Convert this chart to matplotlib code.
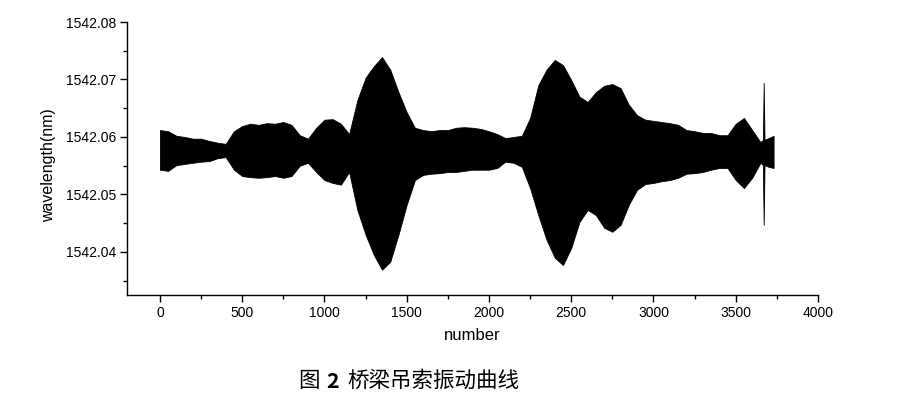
import matplotlib
matplotlib.use("Agg")
import matplotlib.pyplot as plt
from matplotlib.ticker import MultipleLocator

# sample index (number) at which envelope was read
number = [0, 50, 100, 150, 200, 250, 300, 350, 400, 450, 500, 550, 600, 650, 700,
          750, 800, 850, 900, 950, 1000, 1050, 1100, 1150, 1200, 1250, 1300, 1350,
          1400, 1450, 1500, 1550, 1600, 1650, 1700, 1750, 1800, 1850, 1900, 1950,
          2000, 2050, 2100, 2150, 2200, 2250, 2300, 2350, 2400, 2450, 2500, 2550,
          2600, 2650, 2700, 2750, 2800, 2850, 2900, 2950, 3000, 3050, 3100, 3150,
          3200, 3250, 3300, 3350, 3400, 3450, 3500, 3550, 3600, 3650, 3665, 3670,
          3675, 3700, 3730]

# upper envelope of wavelength (nm)
upper = [1542.0612, 1542.0610, 1542.0602, 1542.0600, 1542.0597, 1542.0597, 1542.0593,
         1542.0590, 1542.0588, 1542.0610, 1542.0619, 1542.0623, 1542.0621, 1542.0624,
         1542.0623, 1542.0626, 1542.0621, 1542.0603, 1542.0597, 1542.0616, 1542.0630,
         1542.0631, 1542.0623, 1542.0605, 1542.0664, 1542.0703, 1542.0723, 1542.0739,
         1542.0717, 1542.0678, 1542.0643, 1542.0616, 1542.0612, 1542.0610, 1542.0612,
         1542.0612, 1542.0616, 1542.0617, 1542.0616, 1542.0614, 1542.0610, 1542.0605,
         1542.0598, 1542.0600, 1542.0602, 1542.0633, 1542.0690, 1542.0717, 1542.0734,
         1542.0725, 1542.0699, 1542.0670, 1542.0661, 1542.0678, 1542.0689, 1542.0692,
         1542.0685, 1542.0656, 1542.0638, 1542.0630, 1542.0628, 1542.0626, 1542.0624,
         1542.0621, 1542.0612, 1542.0610, 1542.0607, 1542.0607, 1542.0603, 1542.0603,
         1542.0623, 1542.0633, 1542.0612, 1542.0591, 1542.0595, 1542.0694, 1542.0595,
         1542.0598, 1542.0602]

# lower envelope of wavelength (nm)
lower = [1542.0543, 1542.0541, 1542.0551, 1542.0553, 1542.0555, 1542.0557, 1542.0558,
         1542.0563, 1542.0565, 1542.0543, 1542.0532, 1542.0530, 1542.0529, 1542.0530,
         1542.0532, 1542.0529, 1542.0532, 1542.0550, 1542.0555, 1542.0539, 1542.0525,
         1542.0520, 1542.0517, 1542.0539, 1542.0473, 1542.0430, 1542.0395, 1542.0369,
         1542.0383, 1542.0430, 1542.0482, 1542.0525, 1542.0534, 1542.0536, 1542.0537,
         1542.0539, 1542.0539, 1542.0541, 1542.0543, 1542.0543, 1542.0543, 1542.0546,
         1542.0557, 1542.0555, 1542.0548, 1542.0511, 1542.0464, 1542.0421, 1542.0390,
         1542.0377, 1542.0407, 1542.0452, 1542.0473, 1542.0464, 1542.0442, 1542.0435,
         1542.0447, 1542.0482, 1542.0508, 1542.0518, 1542.0520, 1542.0523, 1542.0525,
         1542.0529, 1542.0536, 1542.0537, 1542.0539, 1542.0543, 1542.0546, 1542.0546,
         1542.0525, 1542.0511, 1542.0529, 1542.0555, 1542.0551, 1542.0447, 1542.0551,
         1542.0548, 1542.0546]

x_ticks = [0, 500, 1000, 1500, 2000, 2500, 3000, 3500, 4000]
y_ticks = [1542.04, 1542.05, 1542.06, 1542.07, 1542.08]

plt.rcParams['font.family'] = ['Liberation Sans', 'DejaVu Sans']

W, H = 898, 403
fig = plt.figure(figsize=(W / 100, H / 100), dpi=100)
ax = fig.add_axes([127 / W, 1 - 295 / H, (818 - 127) / W, (295 - 22) / H])

ax.fill_between(number, lower, upper, color='black', linewidth=0.6, edgecolor='black')

ax.set_xlim(-200, 4000)
ax.set_ylim(1542.0325, 1542.08)
ax.set_xticks(x_ticks)
ax.set_yticks(y_ticks)
ax.set_xticklabels([str(v) for v in x_ticks])
ax.set_yticklabels([f"{v:.2f}" for v in y_ticks])
ax.xaxis.set_minor_locator(MultipleLocator(250))
ax.yaxis.set_minor_locator(MultipleLocator(0.005))

for s in ['top', 'right']:
    ax.spines[s].set_visible(False)
for s in ['left', 'bottom']:
    ax.spines[s].set_linewidth(1.0)

ax.tick_params(which='major', direction='out', length=5, width=1, labelsize=10, pad=3)
ax.tick_params(which='minor', direction='out', length=3, width=1)

ax.set_xlabel('number', fontsize=12)
ax.set_ylabel('wavelength(nm)', fontsize=11.5)
ax.xaxis.set_label_coords(0.5, (295 - 335) / 273, transform=ax.transAxes)
ax.yaxis.set_label_coords((49 - 127) / 691, (295 - 165) / 273, transform=ax.transAxes)
ax.xaxis.label.set_va('center')
ax.yaxis.label.set_va('center')

cjk = ['Noto Sans CJK SC', 'DejaVu Sans']
fs = 15.5
yc = 1 - 381 / H
fig.text(298 / W, yc, '图', family=cjk, fontsize=fs, va='center', ha='left')
fig.text(326 / W, yc, '2', family=cjk, fontsize=fs, fontweight='bold', va='center', ha='left')
fig.text(347 / W, yc, '桥梁吊索振动曲线', family=cjk, fontsize=fs, va='center', ha='left')

fig.savefig('out.png', dpi=100)
